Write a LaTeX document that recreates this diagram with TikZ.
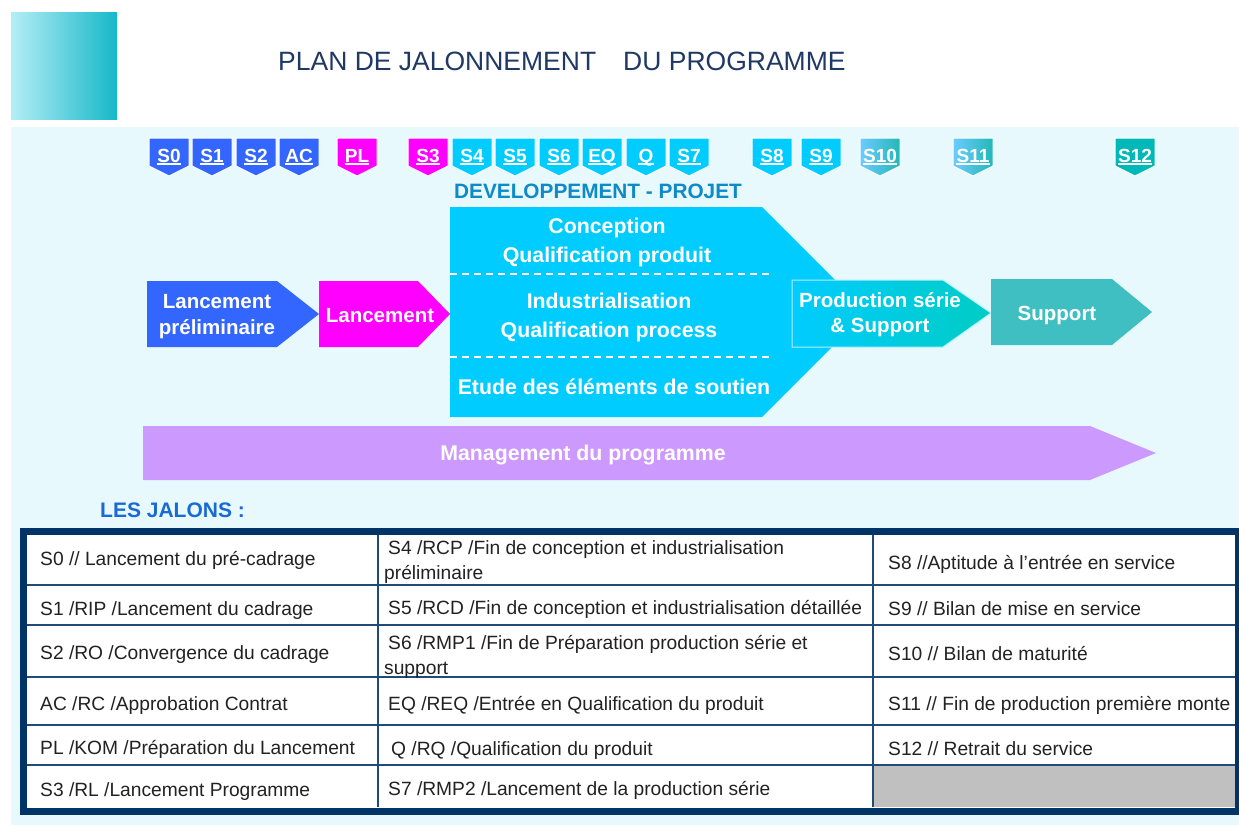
\documentclass[tikz,border=0pt]{standalone}
\usepackage{fontspec}
\setmainfont{Liberation Sans}
\definecolor{panel}{HTML}{E8F9FE}
\definecolor{jblue}{HTML}{3366FF}
\definecolor{jmag}{HTML}{FF00FF}
\definecolor{jcyan}{HTML}{00CCFF}
\definecolor{jteal}{HTML}{00B8B8}
\definecolor{supp}{HTML}{40BFC2}
\definecolor{lav}{HTML}{CC99FF}
\definecolor{devtxt}{HTML}{0E8AC8}
\definecolor{jal}{HTML}{1A6AD4}
\definecolor{navy}{HTML}{003366}
\definecolor{gridc}{HTML}{1F4B7A}
\definecolor{titlec}{HTML}{1F3864}
\definecolor{txt}{HTML}{222222}
\definecolor{lblue}{HTML}{6CCBFF}
\definecolor{tealb}{HTML}{22B8B8}
\definecolor{sqleft}{HTML}{B4EEF5}
\definecolor{sqright}{HTML}{15B8C9}
\definecolor{prodmid}{HTML}{55DAF2}
\definecolor{prodright}{HTML}{00CCC4}
\definecolor{cellgray}{HTML}{C0C0C0}
\newcommand\jalon[3]{%
  \path[draw=white, line width=1pt, #3] (#1-20,138) -- (#1+20,138) -- (#1+20,166) -- (#1,176) -- (#1-20,166) -- cycle;
  \node[badge] (j#2) at (#1,162) {#2};
  \draw[white, line width=1.6pt] ([yshift=-2pt]j#2.base west) -- ([yshift=-2pt]j#2.base east);}
\begin{document}
\begin{tikzpicture}[x=1pt,y=-1pt,
  lab/.style={text=white, font=\fontsize{20.5}{26}\selectfont\bfseries, inner sep=0pt, anchor=base},
  labw/.style={lab, font=\fontsize{21.3}{26}\selectfont\bfseries},
  badge/.style={text=white, font=\fontsize{19}{22}\selectfont\bfseries, inner sep=0pt, anchor=base},
  cell/.style={text=txt, font=\fontsize{19.2}{24}\selectfont, inner sep=0pt, anchor=base west},
  dashline/.style={white, line width=1.5pt, dash pattern=on 7pt off 5pt},
  gridline/.style={gridc, line width=1.5pt}]
\useasboundingbox (0,0) rectangle (1239,825);
\fill[white] (0,0) rectangle (1239,825);
\fill[panel] (11,127) rectangle (1239,825);
\shade[left color=sqleft, right color=sqright] (11,12) rectangle (117,119);
% title
\node[anchor=base west, text=titlec, font=\fontsize{26.5}{30}\selectfont, inner sep=0pt] (title) at (278,70) {PLAN DE JALONNEMENT\hspace{27pt}DU PROGRAMME};
% badges
\jalon{169}{S0}{fill=jblue}
\jalon{212}{S1}{fill=jblue}
\jalon{256}{S2}{fill=jblue}
\jalon{299}{AC}{fill=jblue}
\jalon{357}{PL}{fill=jmag}
\jalon{428}{S3}{fill=jmag}
\jalon{472}{S4}{fill=jcyan}
\jalon{515}{S5}{fill=jcyan}
\jalon{559}{S6}{fill=jcyan}
\jalon{602}{EQ}{fill=jcyan}
\jalon{646}{Q}{fill=jcyan}
\jalon{689}{S7}{fill=jcyan}
\jalon{772}{S8}{fill=jcyan}
\jalon{821}{S9}{fill=jcyan}
\jalon{880}{S10}{left color=lblue, right color=tealb}
\jalon{973}{S11}{left color=lblue, right color=tealb}
\jalon{1135}{S12}{fill=jteal}
% development title
\node[anchor=base, text=devtxt, font=\fontsize{20.8}{24}\selectfont\bfseries, inner sep=0pt] (devtitle) at (598,198) {DEVELOPPEMENT - PROJET};
% phase shapes
\fill[jblue] (147,281) -- (277,281) -- (319,314) -- (277,347) -- (147,347) -- cycle;
\fill[jmag] (319,281) -- (418,281) -- (450,314) -- (418,347) -- (319,347) -- cycle;
\fill[jcyan] (450,207) -- (762,207) -- (867,312) -- (762,417) -- (450,417) -- cycle;
\draw[dashline] (450,274) -- (772,274);
\draw[dashline] (450,357) -- (772,357);
\shade[left color=jcyan, middle color=prodmid, right color=prodright, draw=white!70!jcyan, line width=1pt] (792,280) -- (943,280) -- (991,313) -- (943,347) -- (792,347) -- cycle;
\fill[supp] (991,279) -- (1112,279) -- (1152,312) -- (1112,345) -- (991,345) -- cycle;
\fill[lav] (143,426) -- (1090,426) -- (1156,453) -- (1090,480) -- (143,480) -- cycle;
% phase labels
\node[lab] (lp1) at (217,308) {Lancement};
\node[lab] (lp2) at (217,334) {préliminaire};
\node[lab] (lan) at (380,322) {Lancement};
\node[labw] (d1) at (607,233) {Conception};
\node[labw] (d2) at (607,262) {Qualification produit};
\node[labw] (d3) at (609,308) {Industrialisation};
\node[labw] (d4) at (609,337) {Qualification process};
\node[labw] (d5) at (614,394) {Etude des éléments de soutien};
\node[lab] (pr1) at (880,307) {Production série};
\node[lab] (pr2) at (880,332) {\& Support};
\node[lab] (sup) at (1057,320) {Support};
\node[labw] (mgt) at (583,460) {Management du programme};
% les jalons
\node[anchor=base west, text=jal, font=\fontsize{21}{24}\selectfont\bfseries, inner sep=0pt] (jalons) at (100,517) {LES JALONS :};
% table
\fill[white] (23.5,531.5) rectangle (1238.5,811);
\fill[cellgray] (873,765) rectangle (1235,807);
\foreach \yy in {585,625,677,725,765} \draw[gridline] (27,\yy) -- (1235,\yy);
\draw[gridline] (378,535) -- (378,807);
\draw[gridline] (873,535) -- (873,807);
\draw[navy, line width=7pt] (23.5,531.5) rectangle (1238.5,811);
% column 1
\node[cell] (a1) at (40,565) {S0 // Lancement du pré-cadrage};
\node[cell] (a2) at (40,615) {S1 /RIP /Lancement du cadrage};
\node[cell] (a3) at (40,659) {S2 /RO /Convergence du cadrage};
\node[cell] (a4) at (40,710) {AC /RC /Approbation Contrat};
\node[cell] (a5) at (40,754) {PL /KOM /Préparation du Lancement};
\node[cell] (a6) at (40,796) {S3 /RL /Lancement Programme};
% column 2
\node[cell] (b1) at (388,554) {S4 /RCP /Fin de conception et industrialisation};
\node[cell] (b1b) at (384,579) {préliminaire};
\node[cell] (b2) at (388,614) {S5 /RCD /Fin de conception et industrialisation détaillée};
\node[cell] (b3) at (388,649) {S6 /RMP1 /Fin de Préparation production série et};
\node[cell] (b3b) at (384,674) {support};
\node[cell] (b4) at (388,710) {EQ /REQ /Entrée en Qualification du produit};
\node[cell] (b5) at (391,755) {Q /RQ /Qualification du produit};
\node[cell] (b6) at (388,795) {S7 /RMP2 /Lancement de la production série};
% column 3
\node[cell] (c1) at (888,569) {S8 //Aptitude à l'entrée en service};
\node[cell] (c2) at (888,615) {S9 // Bilan de mise en service};
\node[cell] (c3) at (888,660) {S10 // Bilan de maturité};
\node[cell] (c4) at (888,710) {S11 // Fin de production première monte};
\node[cell] (c5) at (888,755) {S12 // Retrait du service};
\end{tikzpicture}
\end{document}
